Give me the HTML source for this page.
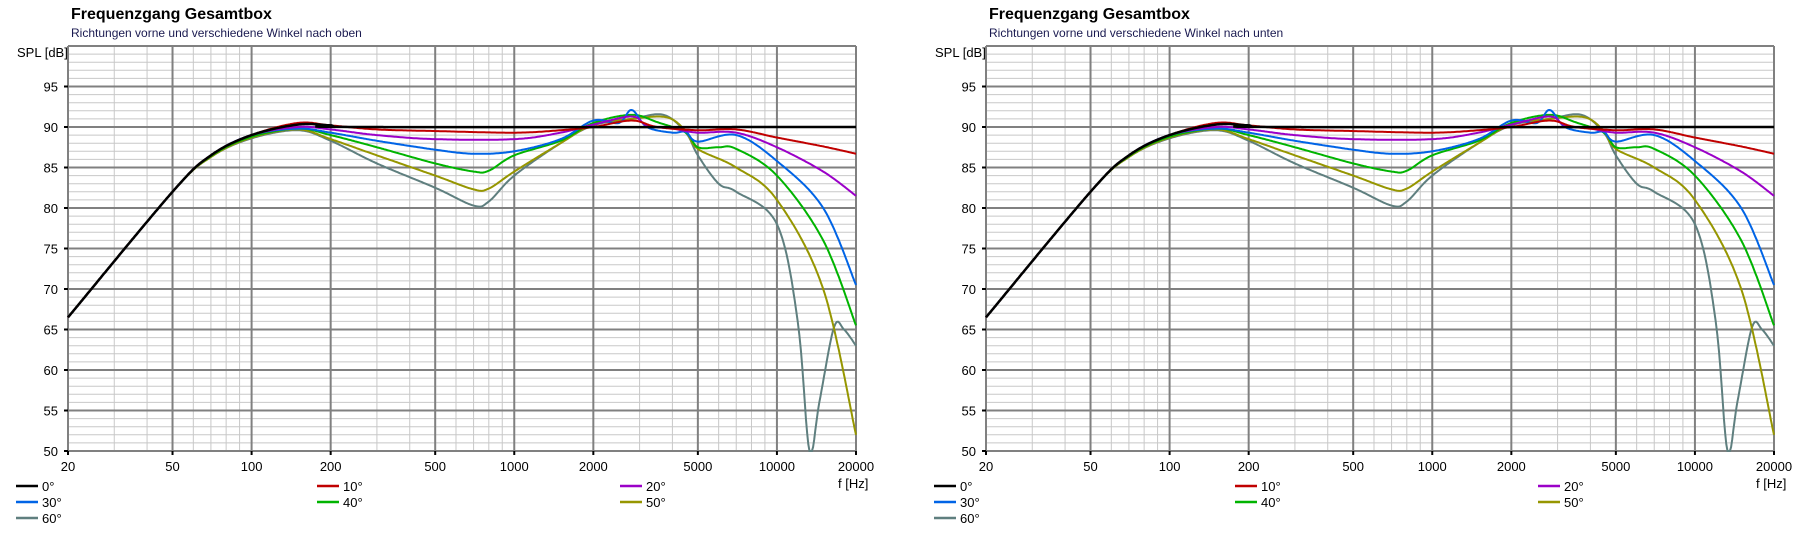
<!DOCTYPE html>
<html><head><meta charset="utf-8">
<style>
html,body{margin:0;padding:0;background:#fff;}
body{width:1794px;height:528px;overflow:hidden;font-family:"Liberation Sans",sans-serif;}
svg text{font-family:"Liberation Sans",sans-serif;}
</style></head>
<body>
<svg id="s" width="1794" height="528" xmlns="http://www.w3.org/2000/svg"></svg>
<script>
const S=document.getElementById('s');
const NS='http://www.w3.org/2000/svg';
function el(t,a,txt){const e=document.createElementNS(NS,t);for(const k in a)e.setAttribute(k,a[k]);if(txt!==undefined)e.textContent=txt;S.appendChild(e);return e;}
const X0=68,X1=856,Y0=46,Y1=451;
const curves=[
 ['#000000',[[20,66.5],[50,82],[70,86.5],[100,89],[150,90.3],[200,90.2],[260,90],[20000,90]]],
 ['#c00000',[[20,66.5],[50,82],[70,86.5],[100,89],[150,90.5],[200,90.2],[300,89.7],[500,89.5],[1000,89.3],[1500,89.6],[2000,90],[2800,90.8],[3500,90],[5000,89.6],[7000,89.7],[10000,88.7],[15000,87.6],[20000,86.7]]],
 ['#9b00c8',[[20,66.5],[50,82],[70,86.5],[100,89],[150,90],[200,89.7],[300,89],[500,88.5],[1000,88.5],[1500,89.3],[2000,90.3],[2800,91.3],[3200,90.2],[4000,89.8],[5000,89.3],[7000,89.3],[10000,87.5],[15000,84.5],[20000,81.5]]],
 ['#0064e6',[[20,66.5],[50,82],[70,86.5],[100,89],[150,89.8],[200,89.3],[300,88.3],[500,87.2],[700,86.7],[1000,87],[1500,88.5],[2000,90.8],[2500,90.5],[2800,92.1],[3200,90],[4000,89.3],[4500,89.4],[5000,88.2],[7000,89],[10000,85.8],[15000,80],[20000,70.5]]],
 ['#00b400',[[20,66.5],[50,82],[70,86.4],[100,88.8],[150,89.8],[200,89],[300,87.5],[500,85.5],[700,84.5],[800,84.6],[1000,86.5],[1500,88.3],[2000,90.5],[2800,91.5],[3500,90.6],[4500,89.3],[5000,87.5],[6000,87.5],[7000,87.3],[10000,84],[15000,76],[20000,65.5]]],
 ['#969600',[[20,66.5],[50,82],[70,86.3],[100,88.7],[150,89.7],[200,88.5],[300,86.5],[500,84],[700,82.3],[800,82.4],[1000,84.5],[1500,88],[2000,90.3],[2800,91],[3800,91.2],[4500,89.5],[5000,87.3],[7000,85],[10000,81],[15000,70],[20000,52]]],
 ['#5f7f7f',[[20,66.5],[50,82],[70,86.3],[100,88.6],[150,89.6],[200,88.3],[300,85.5],[500,82.5],[700,80.3],[800,80.8],[1000,84],[1500,88],[2000,90.2],[2800,91],[3700,91.5],[4500,89.3],[5000,86.5],[6000,83],[7000,82],[10000,78],[12000,66],[13300,50],[14500,56],[16500,65.3],[18000,65],[20000,63]]]
];
function fx(f,o){return o+X0+(Math.log10(f/20))/3*(X1-X0);}
function fy(d){return Y1-(d-50)/50*(Y1-Y0);}
function chart(o,sub){
 // minor grid
 for(let d=51;d<100;d++){if(d%5)el('line',{x1:o+X0,x2:o+X1,y1:fy(d),y2:fy(d),stroke:'#c8c8c8','stroke-width':1});}
 const major=[20,50,100,200,500,1000,2000,5000,10000,20000];
 for(let dec=10;dec<=10000;dec*=10)for(let m=1;m<10;m++){const f=m*dec;if(f<20||f>20000)continue;if(major.includes(f))continue;el('line',{x1:fx(f,o),x2:fx(f,o),y1:Y0,y2:Y1,stroke:'#c8c8c8','stroke-width':1});}
 for(let d=55;d<=100;d+=5)el('line',{x1:o+X0,x2:o+X1,y1:fy(d),y2:fy(d),stroke:'#808080','stroke-width':2});
 for(const f of major)el('line',{x1:fx(f,o),x2:fx(f,o),y1:Y0,y2:Y1,stroke:'#808080','stroke-width':2});
 el('line',{x1:o+X0,x2:o+X1,y1:Y1,y2:Y1,stroke:'#808080','stroke-width':2});
 // labels
 for(let d=50;d<=95;d+=5){el('text',{x:o+58,y:fy(d)+5,'text-anchor':'end','font-size':13,fill:'#000'},d);el('line',{x1:o+64,x2:o+X0,y1:fy(d),y2:fy(d),stroke:'#000','stroke-width':2});}
 for(const f of major){el('text',{x:fx(f,o),y:471,'text-anchor':'middle','font-size':13,fill:'#000'},f);el('line',{x1:fx(f,o),x2:fx(f,o),y1:Y1,y2:Y1+4,stroke:'#000','stroke-width':2});}
 el('text',{x:o+17,y:57,'font-size':13,fill:'#000'},'SPL [dB]');
 el('text',{x:o+838,y:488,'font-size':13,fill:'#000'},'f [Hz]');
 el('text',{x:o+71,y:19,'font-size':16,'font-weight':'bold',fill:'#000'},'Frequenzgang Gesamtbox');
 el('text',{x:o+71,y:37,'font-size':12,fill:'#1a1a50'},sub);
 // curves
 for(let ci=curves.length-1;ci>=0;ci--){
  const [col,pts]=curves[ci];
  const P=pts.map(p=>[Math.log10(p[0]),p[1]]);
  let d='';
  for(let i=0;i<P.length-1;i++){
   const p0=P[Math.max(0,i-1)],p1=P[i],p2=P[i+1],p3=P[Math.min(P.length-1,i+2)];
   const n=Math.max(4,Math.ceil((p2[0]-p1[0])*200));
   for(let k=0;k<=n;k++){
    const t=k/n;
    // centripetal-ish: use uniform catmull-rom on x and y param
    const c=(a,b,cc,dd)=>0.5*((2*b)+(-a+cc)*t+(2*a-5*b+4*cc-dd)*t*t+(-a+3*b-3*cc+dd)*t*t*t);
    const lx=c(p0[0],p1[0],p2[0],p3[0]);let ly=c(p0[1],p1[1],p2[1],p3[1]);
    if(ly<50)ly=50;
    const f=Math.pow(10,lx);
    d+=(d?'L':'M')+fx(f,o).toFixed(1)+' '+fy(ly).toFixed(1);
   }
  }
  el('path',{d:d,fill:'none',stroke:col,'stroke-width':ci==0?2.5:2});
 }
 // legend
 const names=['0°','10°','20°','30°','40°','50°','60°'];
 const cols=[16,317,620],rows=[486,502,518];
 names.forEach((n,i)=>{const cx=o+cols[i%3],cy=rows[Math.floor(i/3)];
  el('line',{x1:cx,x2:cx+22,y1:cy,y2:cy,stroke:curves[i][0],'stroke-width':2.5});
  el('text',{x:cx+26,y:cy+5,'font-size':13,fill:'#000'},n);});
}
chart(0,'Richtungen vorne und verschiedene Winkel nach oben');
chart(918,'Richtungen vorne und verschiedene Winkel nach unten');
</script>
</body></html>
